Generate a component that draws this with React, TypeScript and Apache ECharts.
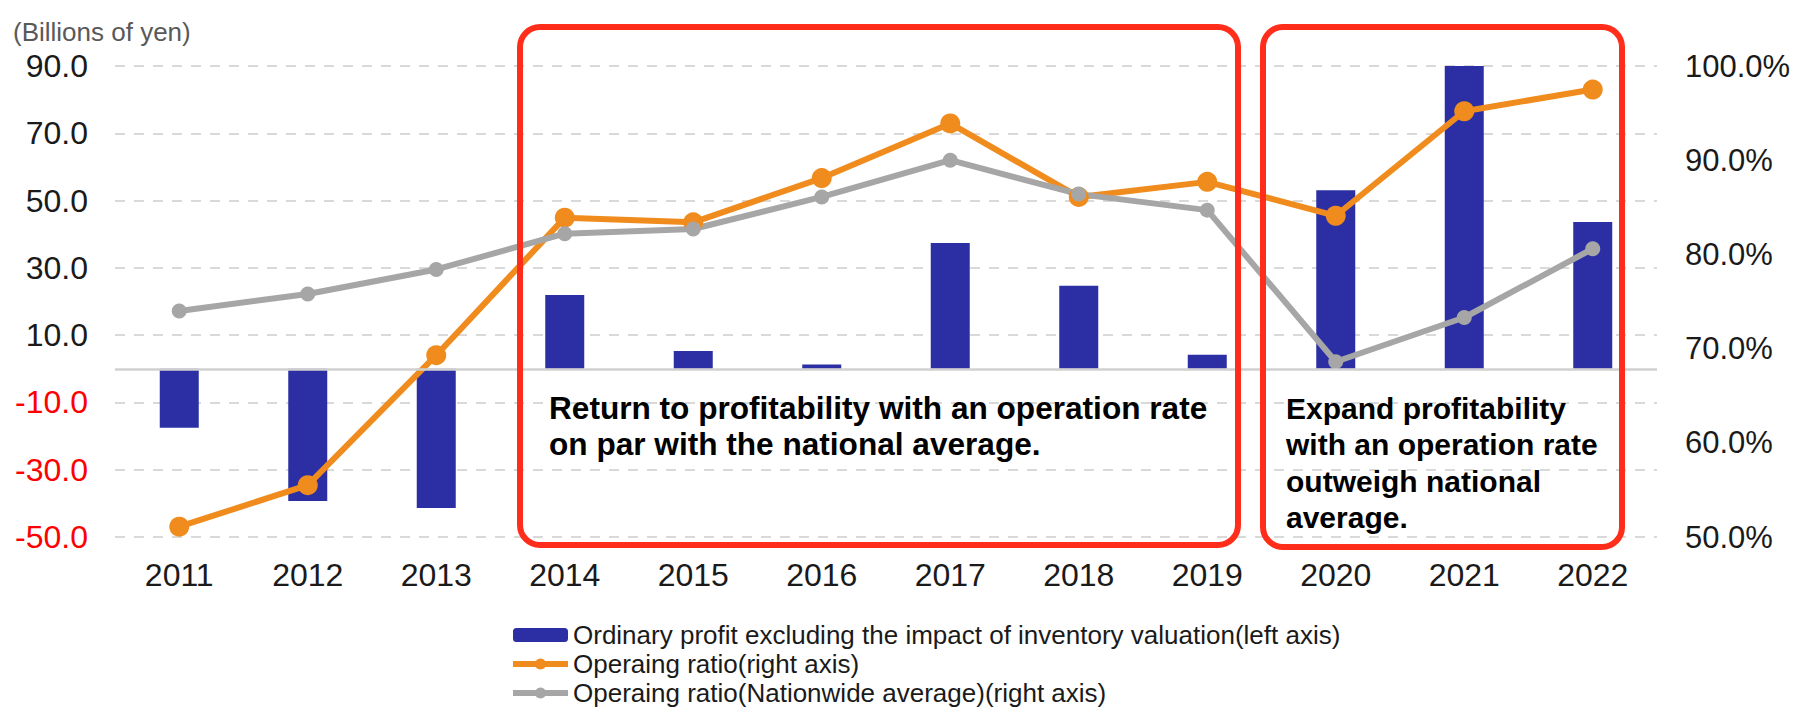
import React, { useEffect, useRef } from "react";
import * as echarts from "echarts";

const years = ["2011", "2012", "2013", "2014", "2015", "2016", "2017", "2018", "2019", "2020", "2021", "2022"];
const ordinaryProfit = [-17.5, -39.3, -41.4, 21.9, 5.3, 1.3, 37.4, 24.7, 4.2, 53.1, 90.0, 43.6];
const operatingRatio = [51.1, 55.5, 69.3, 83.9, 83.4, 88.1, 93.9, 86.1, 87.7, 84.1, 95.2, 97.5];
const nationalRatio = [74.0, 75.8, 78.4, 82.2, 82.7, 86.1, 90.0, 86.4, 84.7, 68.6, 73.3, 80.6];

const seriesNames = [
  "Ordinary profit excluding the impact of inventory valuation(left axis)",
  "Operaing ratio(right axis)",
  "Operaing ratio(Nationwide average)(right axis)",
];
const unitLabel = "(Billions of yen)";
const box1Text = "Return to profitability with an operation rate\non par with the national average.";
const box2Text = "Expand profitability\nwith an operation rate\noutweigh national\naverage.";

const FONT = "Arial, 'Liberation Sans', sans-serif";
const BAR = "#2b2fa3";
const ORANGE = "#f08c1e";
const GRAY = "#a6a6a6";
const RED = "#ff2d1a";

export default function App() {
  const ref = useRef<HTMLDivElement>(null);
  useEffect(() => {
    document.body.style.margin = "0";
    if (!ref.current) return;
    const chart = echarts.init(ref.current, null, { renderer: "svg" });
    chart.setOption({
      animation: false,
      backgroundColor: "#ffffff",
      textStyle: { fontFamily: FONT },
      title: {
        text: unitLabel,
        left: 8,
        top: 14,
        textStyle: { fontSize: 26, fontWeight: "normal", color: "#595959", fontFamily: FONT },
      },
      grid: { left: 115, right: 137, top: 66, bottom: 176, containLabel: false },
      legend: {
        orient: "vertical",
        left: 505,
        top: 617,
        itemWidth: 55,
        itemHeight: 14,
        itemGap: 3,
        textStyle: { fontSize: 26, lineHeight: 26, color: "#1a1a1a", fontFamily: FONT },
        data: [
          { name: seriesNames[0] },
          { name: seriesNames[1], lineStyle: { width: 6 } },
          { name: seriesNames[2], lineStyle: { width: 6 } },
        ],
      },
      xAxis: {
        type: "category",
        data: years,
        boundaryGap: true,
        axisLine: { show: false },
        axisTick: { show: false },
        axisLabel: { fontSize: 32, color: "#1a1a1a", margin: 22, fontFamily: FONT },
      },
      yAxis: [
        {
          type: "value",
          min: -50,
          max: 90,
          interval: 20,
          axisLine: { show: false },
          axisTick: { show: false },
          axisLabel: {
            fontSize: 32,
            margin: 27,
            fontFamily: FONT,
            formatter: (v: number) => v.toFixed(1),
            color: (v: any) => (Number(v) < 0 ? "#ff0000" : "#1a1a1a"),
          },
          splitLine: { lineStyle: { color: "#d9d9d9", width: 2, type: [10, 9] } },
        },
        {
          type: "value",
          min: 50,
          max: 100,
          interval: 10,
          axisLine: { show: false },
          axisTick: { show: false },
          splitLine: { show: false },
          axisLabel: {
            fontSize: 31,
            margin: 28,
            color: "#1a1a1a",
            fontFamily: FONT,
            formatter: (v: number) => v.toFixed(1) + "%",
          },
        },
      ],
      series: [
        {
          name: seriesNames[0],
          type: "bar",
          yAxisIndex: 0,
          data: ordinaryProfit,
          barWidth: 39,
          itemStyle: { color: BAR },
          markLine: {
            silent: true,
            symbol: "none",
            label: { show: false },
            lineStyle: { color: "#d0d0d0", type: "solid", width: 2.5 },
            data: [{ yAxis: 0 }],
          },
        },
        {
          name: seriesNames[1],
          type: "line",
          yAxisIndex: 1,
          data: operatingRatio,
          symbol: "circle",
          symbolSize: 20,
          lineStyle: { color: ORANGE, width: 6 },
          itemStyle: { color: ORANGE },
        },
        {
          name: seriesNames[2],
          type: "line",
          yAxisIndex: 1,
          data: nationalRatio,
          symbol: "circle",
          symbolSize: 15,
          lineStyle: { color: GRAY, width: 6 },
          itemStyle: { color: GRAY },
        },
      ],
      graphic: [
        {
          type: "rect",
          z: 100,
          shape: { x: 520, y: 27, width: 718, height: 518, r: 20 },
          style: { fill: "none", stroke: RED, lineWidth: 6 },
        },
        {
          type: "rect",
          z: 100,
          shape: { x: 1263, y: 27, width: 359, height: 520, r: 20 },
          style: { fill: "none", stroke: RED, lineWidth: 6 },
        },
        {
          type: "text",
          z: 101,
          x: 549,
          y: 390,
          style: {
            text: box1Text,
            fontSize: 31.6,
            fontWeight: "bold",
            lineHeight: 36,
            fill: "#000000",
            fontFamily: FONT,
          },
        },
        {
          type: "text",
          z: 101,
          x: 1286,
          y: 390,
          style: {
            text: box2Text,
            fontSize: 30,
            fontWeight: "bold",
            lineHeight: 36.5,
            fill: "#000000",
            fontFamily: FONT,
          },
        },
      ],
    });
    return () => chart.dispose();
  }, []);
  return <div ref={ref} style={{ width: 1794, height: 713 }} />;
}
